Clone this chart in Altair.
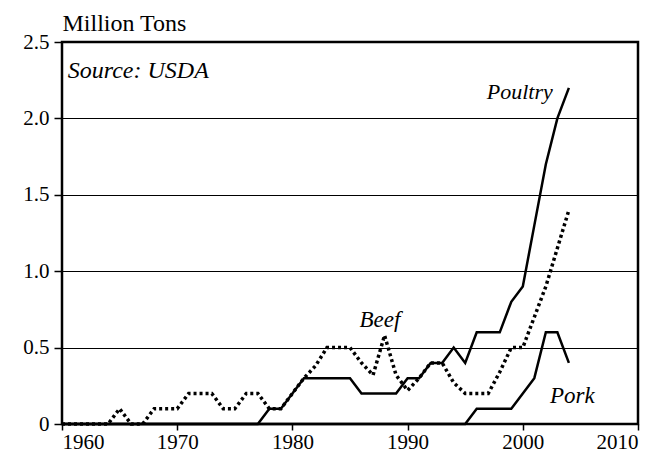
import altair as alt
import pandas as pd

years = list(range(1960, 2005))

poultry = [0, 0, 0, 0, 0, 0, 0, 0, 0, 0,
           0, 0, 0, 0, 0, 0, 0, 0, 0.1, 0.1,
           0.2, 0.3, 0.3, 0.3, 0.3, 0.3, 0.2, 0.2, 0.2, 0.2,
           0.3, 0.3, 0.4, 0.4, 0.5, 0.4, 0.6, 0.6, 0.6, 0.8,
           0.9, 1.3, 1.7, 2.0, 2.2]

beef = [0, 0, 0, 0, 0, 0.1, 0, 0, 0.1, 0.1,
        0.1, 0.2, 0.2, 0.2, 0.1, 0.1, 0.2, 0.2, 0.1, 0.1,
        0.2, 0.3, 0.38, 0.5, 0.5, 0.5, 0.4, 0.32, 0.58, 0.32,
        0.22, 0.3, 0.4, 0.4, 0.27, 0.2, 0.2, 0.2, 0.34, 0.5,
        0.5, 0.7, 0.9, 1.15, 1.4]

pork = [0, 0, 0, 0, 0, 0, 0, 0, 0, 0,
        0, 0, 0, 0, 0, 0, 0, 0, 0, 0,
        0, 0, 0, 0, 0, 0, 0, 0, 0, 0,
        0, 0, 0, 0, 0, 0, 0.1, 0.1, 0.1, 0.1,
        0.2, 0.3, 0.6, 0.6, 0.4]

ann_labels = ["Poultry", "Beef", "Pork", "Source: USDA"]
ann_years = [2002.6, 1987.6, 2004.3, 1960.5]
ann_values = [2.17, 0.68, 0.18, 2.31]

x_ticks = [1960, 1970, 1980, 1990, 2000, 2010]
y_ticks = [0, 0.5, 1.0, 1.5, 2.0, 2.5]

FONT = "Liberation Serif"

rows = []
for name, vals in [("Poultry", poultry), ("Beef", beef), ("Pork", pork)]:
    for yr, v in zip(years, vals):
        rows.append({"year": yr, "value": v, "series": name})
df = pd.DataFrame(rows)

ann = pd.DataFrame({"label": ann_labels, "year": ann_years, "value": ann_values})

xs = alt.Scale(domain=[1960, 2010], nice=False, zero=False)
ys = alt.Scale(domain=[0, 2.5], nice=False)

xenc = alt.X("year:Q", scale=xs, axis=alt.Axis(
    values=x_ticks, format="d", title=None, grid=False, domain=False,
    ticks=True, tickSize=6, tickWidth=1.5, tickColor="black",
    labelFont=FONT, labelFontSize=21, labelColor="black", labelPadding=1))
yenc = alt.Y("value:Q", scale=ys, axis=alt.Axis(
    values=y_ticks, title="Million Tons", titleAngle=0, titleX=0, titleY=-12,
    titleAlign="left", titleBaseline="alphabetic", titleFont=FONT,
    titleFontSize=24, titleFontWeight="normal", titleColor="black",
    labelExpr="datum.value == 0 ? '0' : format(datum.value, '.1f')",
    grid=True, gridColor="black", gridWidth=1, gridOpacity=1,
    domain=False, ticks=True, tickSize=8, tickWidth=1.5, tickColor="black",
    labelFont=FONT, labelFontSize=21, labelColor="black", labelPadding=5))

base = alt.Chart(df)

solid = base.transform_filter(
    alt.FieldOneOfPredicate(field="series", oneOf=["Poultry", "Pork"])
).mark_line(color="black", strokeWidth=2.5).encode(
    x=xenc, y=yenc, detail="series:N")

dotted = base.transform_filter(
    alt.FieldEqualPredicate(field="series", equal="Beef")
).mark_line(color="black", strokeWidth=3.5, strokeDash=[3, 3], strokeCap="butt").encode(
    x=alt.X("year:Q", scale=xs), y=alt.Y("value:Q", scale=ys))

annc = alt.Chart(ann)
t_right = annc.transform_filter(alt.FieldEqualPredicate(field="label", equal="Poultry")).mark_text(
    font=FONT, fontSize=22, fontStyle="italic", align="right", baseline="middle", color="black"
).encode(x=alt.X("year:Q", scale=xs), y=alt.Y("value:Q", scale=ys), text="label:N")
t_center = annc.transform_filter(
    alt.FieldOneOfPredicate(field="label", oneOf=["Beef", "Pork"])).mark_text(
    font=FONT, fontSize=23, fontStyle="italic", align="center", baseline="middle", color="black"
).encode(x=alt.X("year:Q", scale=xs), y=alt.Y("value:Q", scale=ys), text="label:N")
t_left = annc.transform_filter(alt.FieldEqualPredicate(field="label", equal="Source: USDA")).mark_text(
    font=FONT, fontSize=24, fontStyle="italic", align="left", baseline="middle", color="black"
).encode(x=alt.X("year:Q", scale=xs), y=alt.Y("value:Q", scale=ys), text="label:N")

chart = alt.layer(solid, dotted, t_right, t_center, t_left).properties(
    width=576, height=382,
    autosize=alt.AutoSizeParams(type="none"),
    padding={"left": 54, "top": 34, "right": 15, "bottom": 28},
    background="white",
).configure_view(stroke="black", strokeWidth=2.5)

chart.save("out.html", embed_options={"renderer": "svg", "actions": False})
